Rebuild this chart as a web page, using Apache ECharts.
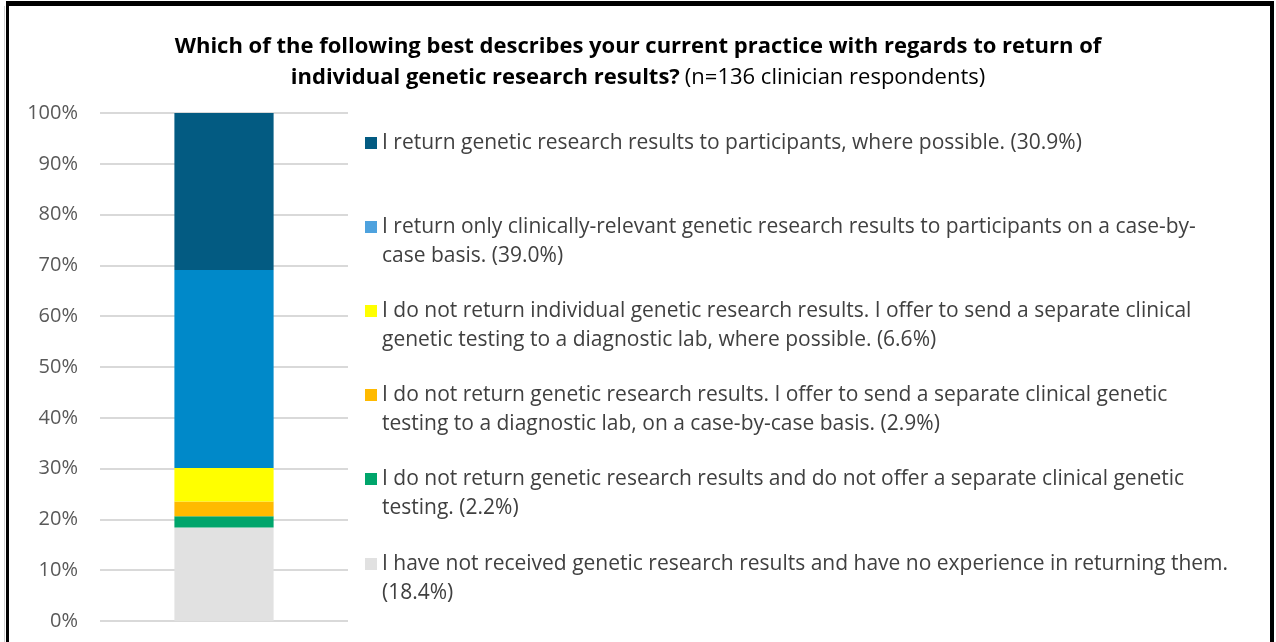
<!DOCTYPE html>
<html>
<head>
<meta charset="utf-8">
<script src="https://cdn.jsdelivr.net/npm/echarts@6/dist/echarts.min.js"></script>
<style>
  html, body { margin: 0; padding: 0; background: #fff; }
  #chart { width: 1276px; height: 642px; }
</style>
</head>
<body>
<div id="chart"></div>
<script>
// one stacked column, bottom to top
const categories = [''];
const answerLines = [
  ['I have not received genetic research results and have no experience in returning them.', ''],
  ['I do not return genetic research results and do not offer a separate clinical genetic', 'testing.'],
  ['I do not return genetic research results. I offer to send a separate clinical genetic', 'testing to a diagnostic lab, on a case-by-case basis.'],
  ['I do not return individual genetic research results. I offer to send a separate clinical', 'genetic testing to a diagnostic lab, where possible.'],
  ['I return only clinically-relevant genetic research results to participants on a case-by-', 'case basis.'],
  ['I return genetic research results to participants, where possible.']
];
const shares = [18.4, 2.2, 2.9, 6.6, 39.0, 30.9];
const yTicks = [0, 10, 20, 30, 40, 50, 60, 70, 80, 90, 100];

const barColors = ['#E1E1E1', '#00A56B', '#FFBA00', '#FFFF00', '#0089C9', '#035B82'];
const markerColors = ['#E1E1E1', '#00A56B', '#FFBA00', '#FFFF00', '#4EA2DE', '#035B82'];
const FONT = 'Open Sans';

// series names carry the percentage on their last line
const names = answerLines.map((lines, i) => {
  const ls = lines.slice();
  const pct = '(' + shares[i].toFixed(1) + '%)';
  const last = ls[ls.length - 1];
  ls[ls.length - 1] = last ? last + ' ' + pct : pct;
  return ls.join('\n');
});

// legend order top to bottom, line-1 centre y
const legendCentres = [138, 222, 306, 390, 474, 559];
const order = [5, 4, 3, 2, 1, 0];
const LH = 29;

const legends = order.map((idx, k) => {
  const multi = names[idx].indexOf('\n') >= 0;
  return {
    data: [{ name: names[idx], itemStyle: { color: markerColors[idx] } }],
    orient: 'vertical',
    left: 360,
    top: multi ? legendCentres[k] - LH * 1.5 : legendCentres[k] - LH / 2,
    icon: 'rect',
    itemWidth: 12,
    itemHeight: 12,
    selectedMode: false,
    formatter: n => (n.indexOf('\n') >= 0 ? '\n' + n : n),
    textStyle: { fontFamily: FONT, fontSize: 21, lineHeight: LH, color: '#404040' }
  };
});

const chart = echarts.init(document.getElementById('chart'), null, { renderer: 'canvas' });
chart.setOption({
  animation: false,
  backgroundColor: '#fff',
  title: {
    left: 'center',
    top: 26,
    text: '{b|Which of the following best describes your current practice with regards to return of}\n' +
          '{b|individual genetic research results?} {n|(n=136 clinician respondents)}',
    textStyle: {
      rich: {
        b: { fontFamily: FONT, fontWeight: 'bold', fontSize: 22, lineHeight: 31, color: '#000' },
        n: { fontFamily: FONT, fontWeight: 'normal', fontSize: 22, lineHeight: 31, color: '#000' }
      }
    }
  },
  legend: legends,
  grid: { left: 100, right: 928, top: 113, bottom: 21, containLabel: false },
  xAxis: {
    type: 'category',
    data: categories,
    axisLine: { show: false },
    axisTick: { show: false },
    axisLabel: { show: false }
  },
  yAxis: {
    type: 'value',
    min: yTicks[0],
    max: yTicks[yTicks.length - 1],
    interval: yTicks[1] - yTicks[0],
    axisLine: { show: false },
    axisTick: { show: false },
    axisLabel: { formatter: '{value}%', fontFamily: FONT, fontSize: 20, color: '#595959', margin: 22 },
    splitLine: { lineStyle: { color: '#D9D9D9', width: 2 } }
  },
  series: names.map((n, i) => ({
    name: n,
    type: 'bar',
    stack: 'all',
    barWidth: '40%',
    data: [shares[i]],
    itemStyle: { color: barColors[i] }
  })),
  graphic: [
    { type: 'rect', shape: { x: 6, y: 1, width: 1268, height: 5 }, style: { fill: '#000' }, silent: true },
    { type: 'rect', shape: { x: 6, y: 1, width: 3, height: 700 }, style: { fill: '#000' }, silent: true },
    { type: 'rect', shape: { x: 1270, y: 1, width: 4, height: 700 }, style: { fill: '#000' }, silent: true },
    { type: 'rect', shape: { x: 4, y: 6, width: 1, height: 700 }, style: { fill: '#D0D0D0' }, silent: true }
  ]
});
</script>
</body>
</html>
